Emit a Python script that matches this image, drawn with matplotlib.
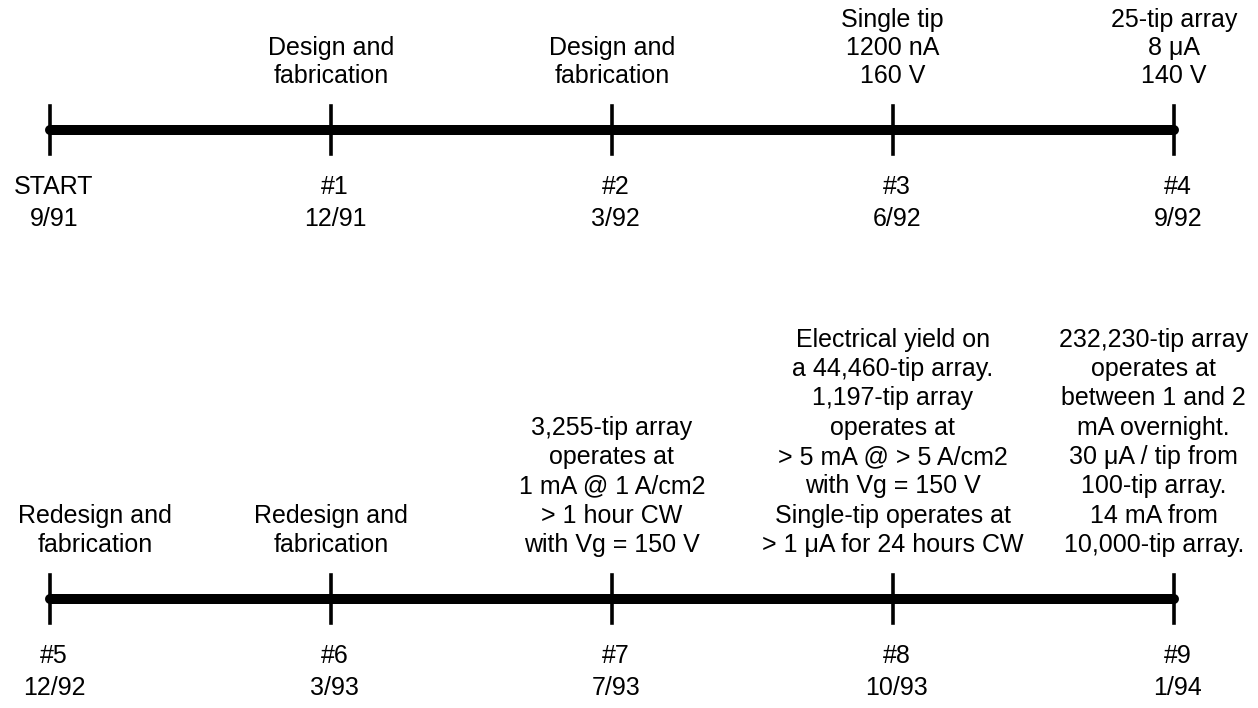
import matplotlib.pyplot as plt

plt.rcParams['font.family'] = ['Liberation Sans', 'DejaVu Sans']

# milestones, first row
top_ids = ["START", "#1", "#2", "#3", "#4"]
top_dates = ["9/91", "12/91", "3/92", "6/92", "9/92"]
top_notes = [
    "",
    "Design and\nfabrication",
    "Design and\nfabrication",
    "Single tip\n1200 nA\n160 V",
    "25-tip array\n8 \u03bcA\n140 V",
]

# milestones, second row
bot_ids = ["#5", "#6", "#7", "#8", "#9"]
bot_dates = ["12/92", "3/93", "7/93", "10/93", "1/94"]
bot_notes = [
    "Redesign and\nfabrication",
    "Redesign and\nfabrication",
    "3,255-tip array\noperates at\n1 mA @ 1 A/cm2\n> 1 hour CW\nwith Vg = 150 V",
    "Electrical yield on\na 44,460-tip array.\n1,197-tip array\noperates at\n> 5 mA @ > 5 A/cm2\nwith Vg = 150 V\nSingle-tip operates at\n> 1 \u03bcA for 24 hours CW",
    "232,230-tip array\noperates at\nbetween 1 and 2\nmA overnight.\n30 \u03bcA / tip from\n100-tip array.\n14 mA from\n10,000-tip array.",
]

fig = plt.figure(figsize=(12.58, 7.08), dpi=100)
ax = fig.add_axes([0, 0, 1, 1])
# x in milestone index, y in pixels from the top
ax.set_xlim(-0.178, 4.30)
ax.set_ylim(708, 0)
ax.axis('off')

fs = 18
rows = [(130, top_ids, top_dates, top_notes, [0, 0, 0, 0, 0], 1.22),
        (599, bot_ids, bot_dates, bot_notes, [45, 0, 0, 0, -20], 1.28)]
for y, ids, dates, notes, shift, lsp in rows:
    xs = list(range(len(ids)))
    ax.plot([xs[0], xs[-1]], [y, y], color='black', lw=7.2, solid_capstyle='round', zorder=2)
    for x, lab, dt, note, dx in zip(xs, ids, dates, notes, shift):
        ax.plot([x, x], [y - 24, y + 24], color='black', lw=2.6, zorder=3)
        ax.annotate(lab, (x, y + 64), xytext=(4, 0), textcoords='offset pixels',
                    ha='center', va='baseline', fontsize=fs)
        ax.annotate(dt, (x, y + 96), xytext=(4, 0), textcoords='offset pixels',
                    ha='center', va='baseline', fontsize=fs)
        if note:
            ax.annotate(note, (x, y - 42), xytext=(dx, 0), textcoords='offset pixels',
                        ha='center', va='bottom', fontsize=fs, linespacing=lsp)

fig.savefig("out.png", dpi=100)
